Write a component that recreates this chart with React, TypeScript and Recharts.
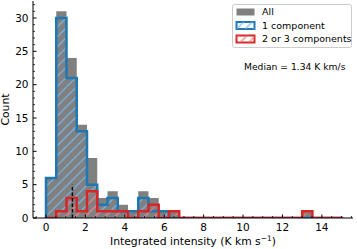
import React from 'react';
import { ComposedChart, Area, XAxis, YAxis, ReferenceLine, Legend } from 'recharts';

// Histogram bin edges (K km/s)
const binEdges = [
  0, 0.52, 1.04, 1.56, 2.08, 2.6, 3.12, 3.64, 4.16, 4.68, 5.2, 5.72, 6.24, 6.76, 7.28,
  7.8, 8.32, 8.84, 9.36, 9.88, 10.4, 10.92, 11.44, 11.96, 12.48, 13.0, 13.52, 14.04, 14.56, 15.08,
];
// Counts per bin
const countsAll = [6, 31, 24, 14, 9, 3, 4, 2, 1, 4, 3, 1, 1, 0, 0, 0, 0, 0, 0, 0, 0, 0, 0, 0, 0, 1, 0, 0, 0];
const countsOne = [6, 30, 21, 13, 5, 2, 3, 1, 1, 3, 1, 1, 0, 0, 0, 0, 0, 0, 0, 0, 0, 0, 0, 0, 0, 0, 0, 0, 0];
const countsMulti = [0, 1, 3, 1, 4, 1, 1, 1, 0, 1, 2, 0, 1, 0, 0, 0, 0, 0, 0, 0, 0, 0, 0, 0, 0, 1, 0, 0, 0];

const seriesNames = ['All', '1 component', '2 or 3 components'];
const medianValue = 1.34;
const medianTop = 5;
const medianText = 'Median = 1.34 K km/s';
const xLabelMain = 'Integrated intensity (K km s';
const xLabelSup = '\u22121';
const yLabel = 'Count';

const xMajorTicks = [0, 2, 4, 6, 8, 10, 12, 14];
const xAllTicks = [
  -0.5, 0, 0.5, 1, 1.5, 2, 2.5, 3, 3.5, 4, 4.5, 5, 5.5, 6, 6.5, 7, 7.5, 8, 8.5, 9, 9.5,
  10, 10.5, 11, 11.5, 12, 12.5, 13, 13.5, 14, 14.5, 15, 15.5,
];
const yMajorTicks = [0, 5, 10, 15, 20, 25, 30];
const yAllTicks = [
  0, 1, 2, 3, 4, 5, 6, 7, 8, 9, 10, 11, 12, 13, 14, 15, 16, 17, 18, 19, 20, 21, 22, 23, 24,
  25, 26, 27, 28, 29, 30, 31, 32,
];

const X_DOMAIN = [-0.66, 15.58];
const Y_DOMAIN = [0, 32.55];

const FONT = 'DejaVu Sans, sans-serif';
const GRAY = '#808080';
const BLUE = '#1f77b4';
const RED = '#d62728';
const BLUE_HATCH = '#7ab6e6';
const RED_HATCH = '#ee7777';

const n = countsAll.length;
const rows: any[] = [];
rows.push({ x: binEdges[0], all: 0, one: 0, multi: 0 });
for (let k = 0; k < n; k++) {
  rows.push({ x: binEdges[k], all: countsAll[k], one: countsOne[k], multi: countsMulti[k] });
}
rows.push({ x: binEdges[n], all: countsAll[n - 1], one: countsOne[n - 1], multi: countsMulti[n - 1] });
rows.push({ x: binEdges[n], all: 0, one: 0, multi: 0 });

const MAJ = 3.5;
const MIN = 2;

const BottomTick = (props: any) => {
  const { x, y, payload } = props;
  const v = payload.value;
  const major = xMajorTicks.includes(v);
  return (
    <g>
      <line x1={x} x2={x} y1={y} y2={y - (major ? MAJ : MIN)} stroke="#000" strokeWidth={major ? 1 : 0.8} />
      {major && (
        <text x={x} y={y + 12.5} textAnchor="middle" fontSize={10.5} fontFamily={FONT} fill="#000">
          {v}
        </text>
      )}
    </g>
  );
};

const TopTick = (props: any) => {
  const { x, y, payload } = props;
  const major = xMajorTicks.includes(payload.value);
  return <line x1={x} x2={x} y1={y} y2={y + (major ? MAJ : MIN)} stroke="#000" strokeWidth={major ? 1 : 0.8} />;
};

const LeftTick = (props: any) => {
  const { x, y, payload } = props;
  const v = payload.value;
  const major = yMajorTicks.includes(v);
  return (
    <g>
      <line x1={x} x2={x + (major ? MAJ : MIN)} y1={y} y2={y} stroke="#000" strokeWidth={major ? 1 : 0.8} />
      {major && (
        <text x={x - 4.5} y={y + 3.8} textAnchor="end" fontSize={10.5} fontFamily={FONT} fill="#000">
          {v}
        </text>
      )}
    </g>
  );
};

const RightTick = (props: any) => {
  const { x, y, payload } = props;
  const major = yMajorTicks.includes(payload.value);
  return <line x1={x} x2={x - (major ? MAJ : MIN)} y1={y} y2={y} stroke="#000" strokeWidth={major ? 1 : 0.8} />;
};

const LegendBox = () => {
  const handles = [
    { fill: GRAY, stroke: 'none', pattern: null },
    { fill: '#fff', stroke: BLUE, pattern: 'lgHatchBlue' },
    { fill: '#fff', stroke: RED, pattern: 'lgHatchRed' },
  ];
  return (
    <svg width={120} height={44} style={{ display: 'block', overflow: 'visible' }}>
      <defs>
        <pattern id="lgHatchBlue" patternUnits="userSpaceOnUse" width={6} height={6} patternTransform="rotate(45)">
          <line x1={3} y1={0} x2={3} y2={6} stroke={BLUE_HATCH} strokeWidth={1.2} />
        </pattern>
        <pattern id="lgHatchRed" patternUnits="userSpaceOnUse" width={6} height={6} patternTransform="rotate(45)">
          <line x1={3} y1={0} x2={3} y2={6} stroke={RED_HATCH} strokeWidth={1.2} />
        </pattern>
      </defs>
      <rect x={0.5} y={0.5} width={119} height={43} rx={2} fill="#fff" fillOpacity={0.8} stroke="#cccccc" strokeWidth={1} />
      {seriesNames.map((name, i) => {
        const cy = 8 + i * 13.5;
        const h = handles[i];
        return (
          <g key={name}>
            <rect x={4.5} y={cy - 3.5} width={18} height={7} fill={h.fill} stroke={h.stroke} strokeWidth={h.stroke === 'none' ? 0 : 2} />
            {h.pattern && <rect x={4.5} y={cy - 3.5} width={18} height={7} fill={`url(#${h.pattern})`} stroke="none" />}
            <text x={30} y={cy + 3.4} fontSize={9.5} fontFamily={FONT} fill="#000">
              {name}
            </text>
          </g>
        );
      })}
    </svg>
  );
};

export default function App() {
  return (
    <div style={{ position: 'absolute', left: 0, top: 0, width: 357, height: 249, background: '#fff' }}>
      <ComposedChart width={357} height={249} data={rows} margin={{ top: 1, right: 4, bottom: 0, left: 0 }}>
        <defs>
          <pattern id="hatchBlue" patternUnits="userSpaceOnUse" width={7} height={7} patternTransform="rotate(45)">
            <line x1={3.5} y1={0} x2={3.5} y2={7} stroke={BLUE_HATCH} strokeWidth={1.2} />
          </pattern>
          <pattern id="hatchRed" patternUnits="userSpaceOnUse" width={7} height={7} patternTransform="rotate(45)">
            <line x1={3.5} y1={0} x2={3.5} y2={7} stroke={RED_HATCH} strokeWidth={1.2} />
          </pattern>
        </defs>
        <XAxis
          xAxisId="b"
          dataKey="x"
          type="number"
          domain={X_DOMAIN}
          allowDataOverflow
          ticks={xAllTicks}
          interval={0}
          tickLine={false}
          tickSize={0}
          tickMargin={0}
          tick={BottomTick}
          height={31}
          axisLine={{ stroke: '#000', strokeWidth: 1 }}
        />
        <XAxis
          xAxisId="t"
          dataKey="x"
          orientation="top"
          type="number"
          domain={X_DOMAIN}
          allowDataOverflow
          ticks={xAllTicks}
          interval={0}
          tickLine={false}
          tickSize={0}
          tickMargin={0}
          tick={TopTick}
          height={0}
          axisLine={{ stroke: '#000', strokeWidth: 1 }}
        />
        <YAxis
          yAxisId="l"
          type="number"
          domain={Y_DOMAIN}
          allowDataOverflow
          ticks={yAllTicks}
          interval={0}
          tickLine={false}
          tickSize={0}
          tickMargin={0}
          tick={LeftTick}
          width={33}
          axisLine={{ stroke: '#000', strokeWidth: 1 }}
        />
        <YAxis
          yAxisId="r"
          orientation="right"
          type="number"
          domain={Y_DOMAIN}
          allowDataOverflow
          ticks={yAllTicks}
          interval={0}
          tickLine={false}
          tickSize={0}
          tickMargin={0}
          tick={RightTick}
          width={0}
          axisLine={{ stroke: '#000', strokeWidth: 1 }}
        />
        <Area
          xAxisId="b"
          yAxisId="l"
          type="stepAfter"
          dataKey="all"
          name={seriesNames[0]}
          fill={GRAY}
          fillOpacity={1}
          stroke="none"
          dot={false}
          activeDot={false}
          isAnimationActive={false}
        />
        <Area
          xAxisId="b"
          yAxisId="l"
          type="stepAfter"
          dataKey="one"
          name={seriesNames[1]}
          fill="url(#hatchBlue)"
          fillOpacity={1}
          stroke={BLUE}
          strokeWidth={2.5}
          dot={false}
          activeDot={false}
          isAnimationActive={false}
        />
        <Area
          xAxisId="b"
          yAxisId="l"
          type="stepAfter"
          dataKey="multi"
          name={seriesNames[2]}
          fill="url(#hatchRed)"
          fillOpacity={1}
          stroke={RED}
          strokeWidth={2.5}
          dot={false}
          activeDot={false}
          isAnimationActive={false}
        />
        <ReferenceLine
          xAxisId="b"
          yAxisId="l"
          segment={[
            { x: medianValue, y: 0 },
            { x: medianValue, y: medianTop },
          ]}
          stroke="#000"
          strokeWidth={1.5}
          strokeDasharray="3.5 2"
        />
        <Legend
          layout="vertical"
          align="center"
          verticalAlign="middle"
          width={120}
          height={44}
          wrapperStyle={{ position: 'absolute', left: 232, top: 4, width: 120, height: 44 }}
          content={() => <LegendBox />}
        />
        <text x={244} y={70} fontSize={9.2} fontFamily={FONT} fill="#000">
          {medianText}
        </text>
        <text x={193} y={244.6} textAnchor="middle" fontSize={10.8} fontFamily={FONT} fill="#000">
          {xLabelMain}
          <tspan dy={-4} fontSize={7.5}>
            {xLabelSup}
          </tspan>
          <tspan dy={4}>)</tspan>
        </text>
        <text
          x={8.5}
          y={109.5}
          textAnchor="middle"
          fontSize={10.8}
          fontFamily={FONT}
          fill="#000"
          transform="rotate(-90, 8.5, 109.5)"
        >
          {yLabel}
        </text>
      </ComposedChart>
    </div>
  );
}
